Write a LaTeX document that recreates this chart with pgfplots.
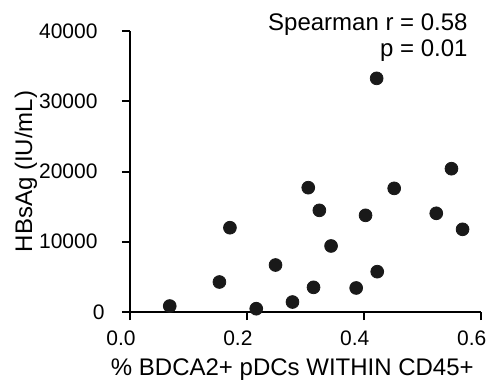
\documentclass[border=0pt]{standalone}
\usepackage{pgfplots}
\pgfplotsset{compat=1.18}
\usepackage{fontspec}
\setmainfont{Liberation Sans}
\begin{document}
\begin{tikzpicture}
\useasboundingbox (-65pt,-34.5pt) rectangle (186.5pt,156pt);
\begin{axis}[
 at={(0,0)}, anchor=south west, scale only axis,
 width=175.35pt, height=140.5pt,
 xmin=0, xmax=0.6, ymin=0, ymax=40000,
 axis x line*=bottom, axis y line*=left,
 axis line style={line width=1pt, -},
 tick align=outside, major tick length=4pt,
 tick style={line width=1pt, black},
 xtick={0,0.2,0.4,0.6}, ytick={0,10000,20000,30000,40000},
 xticklabels={0.0,0.2,0.4,0.6},
 yticklabels={{0\hspace*{-3.5pt}},10000,20000,30000,40000},
 tick label style={font=\fontsize{10.5}{12}\selectfont},
 xticklabel style={xshift=-4.5pt, yshift=-2pt},
 yticklabel style={xshift=-8.7pt},
 scaled y ticks=false,
 label style={font=\fontsize{12}{14}\selectfont},
 xlabel={\% BDCA2+ pDCs WITHIN CD45+},
 ylabel={HBsAg (IU/mL)},
 xlabel style={at={(axis description cs:0.463,-0.2242)}, anchor=base},
 ylabel style={at={(axis description cs:-0.297,0.5)}, anchor=center},
 clip=false,
]
\addplot[only marks, mark=*, mark size=3.2pt, color=black!90] coordinates {
(0.068,850) (0.153,4270) (0.171,12000) (0.216,470) (0.249,6690) (0.278,1420)
(0.305,17700) (0.314,3510) (0.324,14470) (0.344,9400) (0.387,3420) (0.403,13760)
(0.422,33260) (0.423,5740) (0.452,17600) (0.524,14050) (0.550,20400) (0.569,11770)
};
\end{axis}
\node[anchor=base east, font=\fontsize{12}{14}\selectfont, inner sep=0pt] at (169pt,140.75pt) {Spearman r = 0.58};
\node[anchor=base east, font=\fontsize{12}{14}\selectfont, inner sep=0pt] at (169pt,127.65pt) {p = 0.01};
\end{tikzpicture}
\end{document}
